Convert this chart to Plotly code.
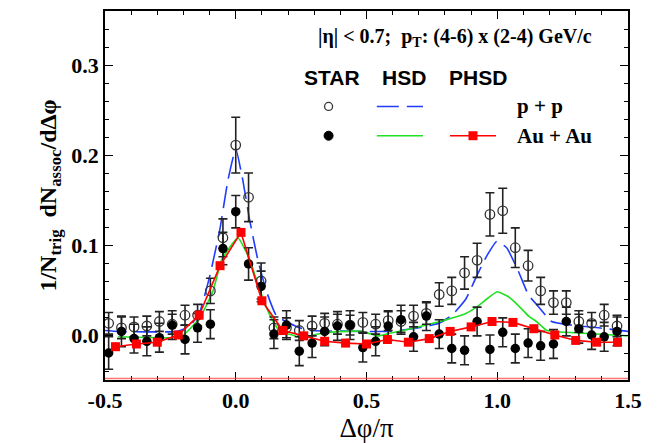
import plotly.graph_objects as go

# ---------------- data ----------------
star_x = [-0.486, -0.437, -0.389, -0.340, -0.292, -0.243, -0.194, -0.146, -0.097, -0.049,
          0.0, 0.049, 0.097, 0.146, 0.194, 0.243, 0.292, 0.340, 0.389, 0.437,
          0.486, 0.535, 0.583, 0.632, 0.680, 0.729, 0.778, 0.826, 0.875, 0.923,
          0.972, 1.021, 1.069, 1.118, 1.166, 1.215, 1.264, 1.312, 1.361, 1.409, 1.458]

star_pp_y = [0.013, 0.008, 0.009, 0.010, 0.015, 0.012, 0.022, 0.022, 0.049, 0.108,
             0.211, 0.153, 0.060, 0.008, 0.008, 0.005, 0.010, 0.013, 0.012, 0.011,
             0.014, 0.012, 0.016, 0.015, 0.021, 0.024, 0.045, 0.049, 0.069, 0.083,
             0.134, 0.138, 0.097, 0.077, 0.049, 0.036, 0.036, 0.015, 0.013, 0.022, 0.010]
star_pp_err = [0.012, 0.012, 0.011, 0.011, 0.011, 0.011, 0.011, 0.012, 0.014, 0.021,
               0.031, 0.027, 0.020, 0.012, 0.011, 0.011, 0.011, 0.011, 0.011, 0.011,
               0.011, 0.011, 0.011, 0.012, 0.012, 0.012, 0.013, 0.015, 0.018, 0.019,
               0.024, 0.025, 0.022, 0.017, 0.015, 0.013, 0.013, 0.012, 0.012, 0.012, 0.012]

star_aa_y = [-0.020, 0.004, -0.004, -0.007, -0.003, 0.011, -0.005, 0.008, 0.012, 0.096,
             0.137, 0.079, 0.054, 0.001, 0.011, -0.018, -0.009, 0.004, 0.010, 0.011,
             -0.014, -0.007, 0.010, 0.017, -0.002, 0.021, 0.001, -0.015, -0.017, 0.015,
             -0.016, 0.003, -0.015, -0.009, -0.012, -0.010, 0.015, 0.007, 0.000, -0.002, 0.004]
star_aa_err = [0.018, 0.017, 0.016, 0.016, 0.016, 0.016, 0.016, 0.016, 0.016, 0.018,
               0.018, 0.018, 0.017, 0.016, 0.016, 0.016, 0.016, 0.016, 0.016, 0.016,
               0.016, 0.016, 0.016, 0.016, 0.016, 0.016, 0.016, 0.016, 0.016, 0.016,
               0.016, 0.016, 0.016, 0.016, 0.016, 0.016, 0.016, 0.016, 0.016, 0.016, 0.016]

hsd_pp_x = [-0.50, -0.45, -0.225, -0.175, -0.137, -0.099, -0.061, -0.03, 0.0, 0.027, 0.053,
            0.084, 0.118, 0.156, 0.206, 0.244, 0.293, 0.484, 0.587, 0.70, 0.777, 0.827,
            0.88, 0.922, 0.96, 0.998, 1.036, 1.082, 1.12, 1.147, 1.208, 1.284, 1.387, 1.50]
hsd_pp_y = [0.005, 0.004, 0.004, 0.010, 0.026, 0.066, 0.117, 0.172, 0.207, 0.172, 0.128,
            0.084, 0.048, 0.021, 0.013, 0.008, 0.005, 0.004, 0.004, 0.008, 0.013, 0.022,
            0.040, 0.066, 0.088, 0.104, 0.097, 0.070, 0.044, 0.035, 0.015, 0.011, 0.008, 0.004]

hsd_aa_x = [-0.45, -0.25, -0.2, -0.149, -0.137, -0.088, -0.053, 0.008, 0.053, 0.091, 0.13,
            0.168, 0.217, 0.244, 0.33, 0.42, 0.48, 0.545, 0.59, 0.67, 0.74, 0.78, 0.88,
            0.93, 0.96, 1.0, 1.04, 1.08, 1.12, 1.15, 1.19, 1.33, 1.50]
hsd_aa_y = [-0.002, -0.003, 0.000, 0.015, 0.019, 0.048, 0.084, 0.108, 0.084, 0.051, 0.022,
            0.004, 0.000, -0.003, 0.002, 0.004, 0.004, -0.001, 0.002, 0.007, 0.012, 0.015,
            0.024, 0.033, 0.040, 0.048, 0.043, 0.033, 0.021, 0.015, 0.005, 0.002, -0.001]

phsd_x = [-0.46, -0.38, -0.30, -0.22, -0.14, -0.06, 0.02, 0.10, 0.18, 0.26, 0.34, 0.42,
          0.50, 0.58, 0.66, 0.74, 0.82, 0.90, 0.98, 1.06, 1.14, 1.22, 1.30, 1.38, 1.46]
phsd_y = [-0.013, -0.010, -0.008, 0.000, 0.022, 0.077, 0.114, 0.038, 0.005, -0.001, -0.007,
          -0.009, -0.010, -0.005, -0.008, -0.004, 0.004, 0.009, 0.015, 0.014, 0.007, 0.000,
          -0.006, -0.008, -0.008]

x_tickvals = [-0.5, 0.0, 0.5, 1.0, 1.5]
x_ticktext = ["-0.5", "0.0", "0.5", "1.0", "1.5"]
y_tickvals = [0.0, 0.1, 0.2, 0.3]
y_ticktext = ["0.0", "0.1", "0.2", "0.3"]

SERIF = "Liberation Serif"
SANS = "Liberation Sans"
BLUE = "#1f3cff"
GREEN = "#22e022"
RED = "#ff0000"

fig = go.Figure()

fig.add_trace(go.Scatter(x=hsd_pp_x, y=hsd_pp_y, mode="lines",
                         line=dict(color=BLUE, width=1.6, dash="22px,8px", shape="spline", smoothing=0.4),
                         showlegend=False))
fig.add_trace(go.Scatter(x=hsd_aa_x, y=hsd_aa_y, mode="lines",
                         line=dict(color=GREEN, width=1.6, shape="spline", smoothing=0.4),
                         showlegend=False))
fig.add_trace(go.Scatter(x=star_x, y=star_pp_y, mode="markers",
                         marker=dict(symbol="circle-open", size=9.5, color="#333333", line=dict(width=1.3)),
                         error_y=dict(type="data", array=star_pp_err, color="#222222", thickness=1.6, width=4.5),
                         showlegend=False))
fig.add_trace(go.Scatter(x=star_x, y=star_aa_y, mode="markers",
                         marker=dict(symbol="circle", size=9.5, color="black"),
                         error_y=dict(type="data", array=star_aa_err, color="#222222", thickness=1.6, width=4.5),
                         showlegend=False))
fig.add_trace(go.Scatter(x=phsd_x, y=phsd_y, mode="lines+markers",
                         line=dict(color=RED, width=1.6),
                         marker=dict(symbol="square", size=9, color=RED),
                         showlegend=False))

shapes = []
# faint red line along the bottom of the frame
shapes.append(dict(type="line", xref="paper", yref="paper", x0=0, x1=1, y0=0.004, y1=0.004,
                   line=dict(color="rgba(255,60,60,0.7)", width=1.5)))

# legend samples (paper coordinates)
row1, row2 = 0.7413, 0.662
shapes.append(dict(type="circle", xref="paper", yref="paper", xsizemode="pixel", ysizemode="pixel",
                   xanchor=0.4275, yanchor=row1, x0=-4, x1=4, y0=-4, y1=4,
                   line=dict(color="#333333", width=1.3), fillcolor="white"))
shapes.append(dict(type="circle", xref="paper", yref="paper", xsizemode="pixel", ysizemode="pixel",
                   xanchor=0.4275, yanchor=row2, x0=-4.5, x1=4.5, y0=-4.5, y1=4.5,
                   line=dict(color="black", width=1), fillcolor="black"))
shapes.append(dict(type="line", xref="paper", yref="paper", x0=0.5197, x1=0.608, y0=row1, y1=row1,
                   line=dict(color=BLUE, width=1.6, dash="22px,8px")))
shapes.append(dict(type="line", xref="paper", yref="paper", x0=0.5197, x1=0.608, y0=row2, y1=row2,
                   line=dict(color=GREEN, width=1.6)))
shapes.append(dict(type="line", xref="paper", yref="paper", x0=0.6597, x1=0.7476, y0=row2, y1=row2,
                   line=dict(color=RED, width=1.6)))
shapes.append(dict(type="rect", xref="paper", yref="paper", xsizemode="pixel", ysizemode="pixel",
                   xanchor=0.7036, yanchor=row2, x0=-4.5, x1=4.5, y0=-4.5, y1=4.5,
                   line=dict(color=RED, width=0), fillcolor=RED))

annotations = [
    dict(text="|η| < 0.7;  p<sub>T</sub>: (4-6) x (2-4) GeV/c", x=0.6685, y=0.928,
         font=dict(family=SERIF, size=20, color="black", weight="bold")),
    dict(text="STAR", x=0.434, y=0.8187, font=dict(family=SANS, size=21, color="black", weight="bold")),
    dict(text="HSD", x=0.571, y=0.8187, font=dict(family=SANS, size=21, color="black", weight="bold")),
    dict(text="PHSD", x=0.7124, y=0.8187, font=dict(family=SANS, size=21, color="black", weight="bold")),
    dict(text="p + p", x=0.8317, y=row1, font=dict(family=SERIF, size=21, color="black", weight="bold")),
    dict(text="Au + Au", x=0.8604, y=row2, font=dict(family=SERIF, size=21, color="black", weight="bold")),
]
for a in annotations:
    a.update(xref="paper", yref="paper", showarrow=False, xanchor="center", yanchor="middle")

fig.update_layout(
    width=660, height=443,
    margin=dict(l=105, r=32, t=9, b=59),
    paper_bgcolor="white", plot_bgcolor="white",
    shapes=shapes, annotations=annotations,
    showlegend=False,
    xaxis=dict(range=[-0.5, 1.5], tickmode="array", tickvals=x_tickvals, ticktext=x_ticktext,
               ticks="inside", ticklen=8, tickwidth=1.3, tickcolor="black",
               minor=dict(tickmode="linear", tick0=0, dtick=0.1, ticks="inside", ticklen=4,
                          tickwidth=1.1, tickcolor="black"),
               showline=True, linecolor="black", linewidth=1.5, mirror="allticks",
               showgrid=False, zeroline=False,
               tickfont=dict(family=SERIF, size=22, color="black", weight="bold"),
               title=dict(text="Δφ/π", font=dict(family=SERIF, size=27, color="black"), standoff=2)),
    yaxis=dict(range=[-0.05, 0.36], tickmode="array", tickvals=y_tickvals, ticktext=y_ticktext,
               ticks="inside", ticklen=8, tickwidth=1.3, tickcolor="black",
               minor=dict(tickmode="linear", tick0=0, dtick=0.02, ticks="inside", ticklen=4,
                          tickwidth=1.1, tickcolor="black"),
               showline=True, linecolor="black", linewidth=1.5, mirror="allticks",
               showgrid=False, zeroline=False,
               tickfont=dict(family=SERIF, size=22, color="black", weight="bold"),
               title=dict(text="1/N<sub>trig</sub>  dN<sub>assoc</sub>/dΔφ",
                          font=dict(family=SERIF, size=24, color="black", weight="bold"), standoff=8)),
)

fig.write_html("out.html")
